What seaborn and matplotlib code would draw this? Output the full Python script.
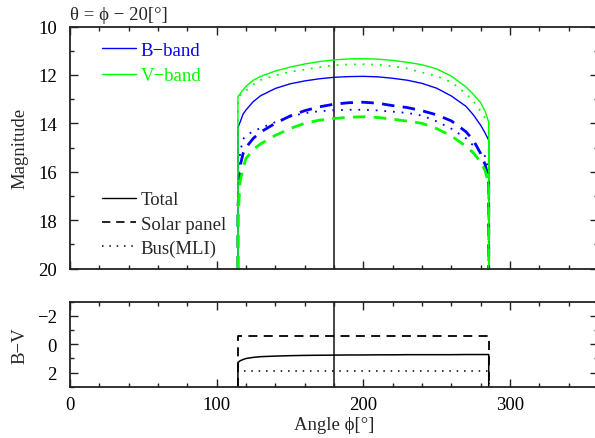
import matplotlib
matplotlib.use('Agg')
import matplotlib.pyplot as plt
from matplotlib.lines import Line2D
from matplotlib.ticker import MultipleLocator
import seaborn as sns

sns.set_theme(style='ticks')
FS = 13.5
plt.rcParams['font.family'] = ['Liberation Serif', 'DejaVu Serif']
plt.rcParams.update({'font.size': FS, 'xtick.labelsize': FS, 'ytick.labelsize': FS,
                     'axes.labelsize': FS, 'legend.fontsize': FS})

# angle grid (deg); the repeated end points carry the vertical drop at the edges
phi = [114.5, 114.5, 116, 118, 120, 125, 130, 140, 150, 160, 170, 180, 190, 200,
       210, 220, 230, 240, 250, 260, 270, 275, 280, 283, 285.5, 285.5]

b_total = [20, 14.17, 13.95, 13.62, 13.45, 13.10, 12.86, 12.56, 12.37, 12.25, 12.16, 12.10, 12.07, 12.06,
           12.08, 12.14, 12.22, 12.35, 12.55, 12.87, 13.30, 13.65, 14.08, 14.40, 14.70, 20]
b_solar = [20, 17.5, 15.75, 15.25, 15.00, 14.62, 14.36, 14.00, 13.70, 13.48, 13.32, 13.21, 13.15, 13.13,
           13.17, 13.27, 13.35, 13.48, 13.65, 13.90, 14.35, 14.70, 15.25, 15.70, 16.30, 20]
b_bus = [20, 16.5, 15.20, 14.65, 14.52, 14.32, 14.20, 13.95, 13.72, 13.58, 13.50, 13.46, 13.44, 13.44,
         13.47, 13.52, 13.57, 13.68, 13.92, 14.22, 14.62, 14.92, 15.18, 15.36, 16.00, 20]
v_total = [20, 12.90, 12.78, 12.62, 12.47, 12.22, 12.06, 11.84, 11.68, 11.55, 11.45, 11.38, 11.34, 11.33,
           11.35, 11.40, 11.48, 11.58, 11.75, 12.05, 12.50, 12.80, 13.15, 13.50, 13.95, 20]
v_solar = [20, 18.0, 16.40, 15.85, 15.45, 15.08, 14.85, 14.50, 14.22, 14.00, 13.87, 13.80, 13.75, 13.73,
           13.76, 13.83, 13.91, 14.00, 14.22, 14.52, 14.95, 15.22, 15.60, 15.95, 16.50, 20]
v_bus = [20, 12.95, 12.85, 12.72, 12.65, 12.40, 12.21, 12.02, 11.87, 11.78, 11.68, 11.60, 11.57, 11.56,
         11.58, 11.64, 11.74, 11.90, 12.05, 12.30, 12.78, 13.08, 13.50, 13.78, 13.98, 20]

# B-V colour
bv_total = [3, 1.29, 1.17, 1.08, 1.01, 0.93, 0.88, 0.84, 0.81, 0.79, 0.78, 0.77, 0.76, 0.76,
            0.75, 0.75, 0.74, 0.74, 0.74, 0.74, 0.73, 0.73, 0.73, 0.73, 0.73, 3]
phi_edges = [114.5, 114.5, 285.5, 285.5]
bv_solar = [3, -0.59, -0.59, 3]
bv_bus = [3, 1.89, 1.89, 3]

BLUE = '#0000ff'
GREEN = '#00ff00'
INK = '#222222'
SOLID = '-'
DASHED = (0, (4.5, 3))
DOTTED = (0, (1, 3.8))

fig = plt.figure(figsize=(5.95, 4.39), dpi=100)
ax1 = fig.add_axes([70 / 595, (439 - 269.5) / 439, 528 / 595, 242 / 439])
ax2 = fig.add_axes([70 / 595, (439 - 387.7) / 439, 528 / 595, 85 / 439])

curves = [
    (b_total, BLUE, SOLID, 1.0), (b_solar, BLUE, DASHED, 2.0), (b_bus, BLUE, DOTTED, 1.3),
    (v_total, GREEN, SOLID, 1.0), (v_solar, GREEN, DASHED, 2.0), (v_bus, GREEN, DOTTED, 1.3),
]
for mag, col, ls, lw in curves:
    sns.lineplot(x=phi, y=mag, ax=ax1, color=col, linestyle=ls, linewidth=lw,
                 estimator=None, sort=False, legend=False)

sns.lineplot(x=phi, y=bv_total, ax=ax2, color='black', linestyle=SOLID, linewidth=1.1,
             estimator=None, sort=False, legend=False)
sns.lineplot(x=phi_edges, y=bv_solar, ax=ax2, color='black', linestyle=(0, (5, 3.5)), linewidth=1.3,
             estimator=None, sort=False, legend=False)
sns.lineplot(x=phi_edges, y=bv_bus, ax=ax2, color='black', linestyle=DOTTED, linewidth=1.1,
             estimator=None, sort=False, legend=False)

for ax in (ax1, ax2):
    ax.axvline(180, color='#444444', lw=1.4, zorder=0)
    ax.set_xlim(0, 360)
    ax.xaxis.set_major_locator(MultipleLocator(100))
    ax.xaxis.set_minor_locator(MultipleLocator(20))
    ax.yaxis.set_minor_locator(MultipleLocator(1))
    ax.tick_params(which='both', direction='in', top=True, right=True, colors=INK, width=1.0)
    ax.tick_params(which='major', length=5.8)
    ax.tick_params(which='minor', length=2.6)
    ax.tick_params(axis='x', pad=7.0, labelcolor='black')
    ax.tick_params(axis='y', pad=9.5, labelcolor='black')
    for sp in ax.spines.values():
        sp.set_color(INK)
        sp.set_linewidth(1.3)

ax1.set_ylim(20, 10)
ax1.yaxis.set_major_locator(MultipleLocator(2))
ax1.tick_params(labelbottom=False)
ax1.set_xlabel('')
ax1.set_ylabel('Magnitude', va='center')
ax1.yaxis.set_label_coords(-0.095, 0.5)
ax1.text(0.0, 1.031, 'θ = ϕ − 20[°]', transform=ax1.transAxes, ha='left', va='baseline', fontsize=FS)

ax2.set_ylim(3, -3)
ax2.yaxis.set_major_locator(MultipleLocator(2))
ax2.set_ylabel('B−V', va='center')
ax2.yaxis.set_label_coords(-0.095, 0.5)
ax2.set_xlabel('Angle ϕ[°]', va='center')
ax2.xaxis.set_label_coords(0.5, -0.44)

band_handles = [Line2D([], [], color=BLUE, lw=1.0), Line2D([], [], color=GREEN, lw=1.0)]
leg1 = ax1.legend(band_handles, ['B−band', 'V−band'], loc='upper left',
                  bbox_to_anchor=(0.0606, 0.9376), frameon=False, borderpad=0, borderaxespad=0,
                  handlelength=1.81, handletextpad=0.25, labelspacing=0.44,
                  labelcolor=[BLUE, GREEN])
ax1.add_artist(leg1)

comp_handles = [Line2D([], [], color='black', lw=1.0, ls=SOLID),
                Line2D([], [], color='black', lw=1.2, ls=(0, (5, 3.5))),
                Line2D([], [], color='black', lw=1.1, ls=DOTTED)]
ax1.legend(comp_handles, ['Total', 'Solar panel', 'Bus(MLI)'], loc='upper left',
           bbox_to_anchor=(0.0606, 0.319), frameon=False, borderpad=0, borderaxespad=0,
           handlelength=1.81, handletextpad=0.25, labelspacing=0.38)

fig.savefig('out.png', dpi=100)
